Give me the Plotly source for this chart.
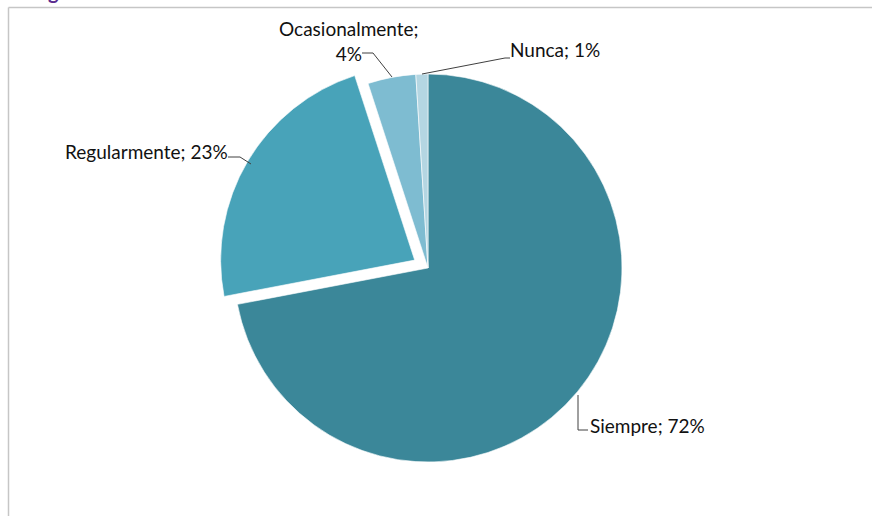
import plotly.graph_objects as go

W, H = 872, 516

categories = ["Siempre", "Regularmente", "Ocasionalmente", "Nunca"]
values = [72, 23, 4, 1]
colors = ["#3B8799", "#48A3B9", "#7EBCD1", "#B4D6E2"]
pulls = [0, 0.08, 0, 0]
label_texts = ["Siempre; 72%", "Regularmente; 23%", "Ocasionalmente;<br>4%", "Nunca; 1%"]


def px(x):
    return x / W


def py(y):
    return 1 - y / H


cx, cy, r = 428, 268, 194
half = r * 1.08

fig = go.Figure(go.Pie(
    labels=categories,
    values=values,
    sort=False,
    direction="clockwise",
    rotation=0,
    pull=pulls,
    marker=dict(colors=colors, line=dict(color="white", width=0.6)),
    textinfo="none",
    hoverinfo="label+percent",
    showlegend=False,
    domain=dict(x=[px(cx - half), px(cx + half)], y=[py(cy + half), py(cy - half)]),
))

font = dict(family="Lato, Carlito, Liberation Sans", size=19, color="#111111")

anns = [
    dict(x=px(647), y=py(425), text=label_texts[0], xanchor="center", yanchor="middle"),
    dict(x=px(146), y=py(151), text=label_texts[1], xanchor="center", yanchor="middle"),
    dict(x=px(349), y=py(41), text=label_texts[2], xanchor="center", yanchor="middle", align="center"),
    dict(x=px(555), y=py(50), text=label_texts[3], xanchor="center", yanchor="middle"),
]
for a in anns:
    a.update(xref="paper", yref="paper", showarrow=False, font=font)

anns.append(dict(x=px(53), y=py(-9), xref="paper", yref="paper", text="<b>g</b>",
                 showarrow=False, font=dict(family="Lato", size=20, color="#5B2C8F"),
                 xanchor="center", yanchor="middle"))


def path(points):
    d = "M " + " L ".join(f"{px(x)},{py(y)}" for x, y in points)
    return dict(type="path", path=d, xref="paper", yref="paper",
                line=dict(color="#404040", width=1))


shapes = [
    path([(578, 395), (578, 430), (588, 430)]),
    path([(228, 157), (240, 157), (251, 164)]),
    path([(362, 53), (373, 53), (392, 77)]),
    path([(422, 74), (505, 58), (510, 58)]),
    dict(type="line", xref="paper", yref="paper", x0=px(8.5), x1=1, y0=py(7.5), y1=py(7.5),
         line=dict(color="#C6C6C6", width=1.5)),
    dict(type="line", xref="paper", yref="paper", x0=px(8.5), x1=px(8.5), y0=py(7.5), y1=0,
         line=dict(color="#C6C6C6", width=1.5)),
]

fig.update_layout(
    width=W, height=H,
    margin=dict(l=0, r=0, t=0, b=0),
    paper_bgcolor="white", plot_bgcolor="white",
    annotations=anns, shapes=shapes,
)

fig.write_html("out.html", config={"displayModeBar": False},
               post_script="document.body.style.margin='0';document.body.style.overflow='hidden';")
